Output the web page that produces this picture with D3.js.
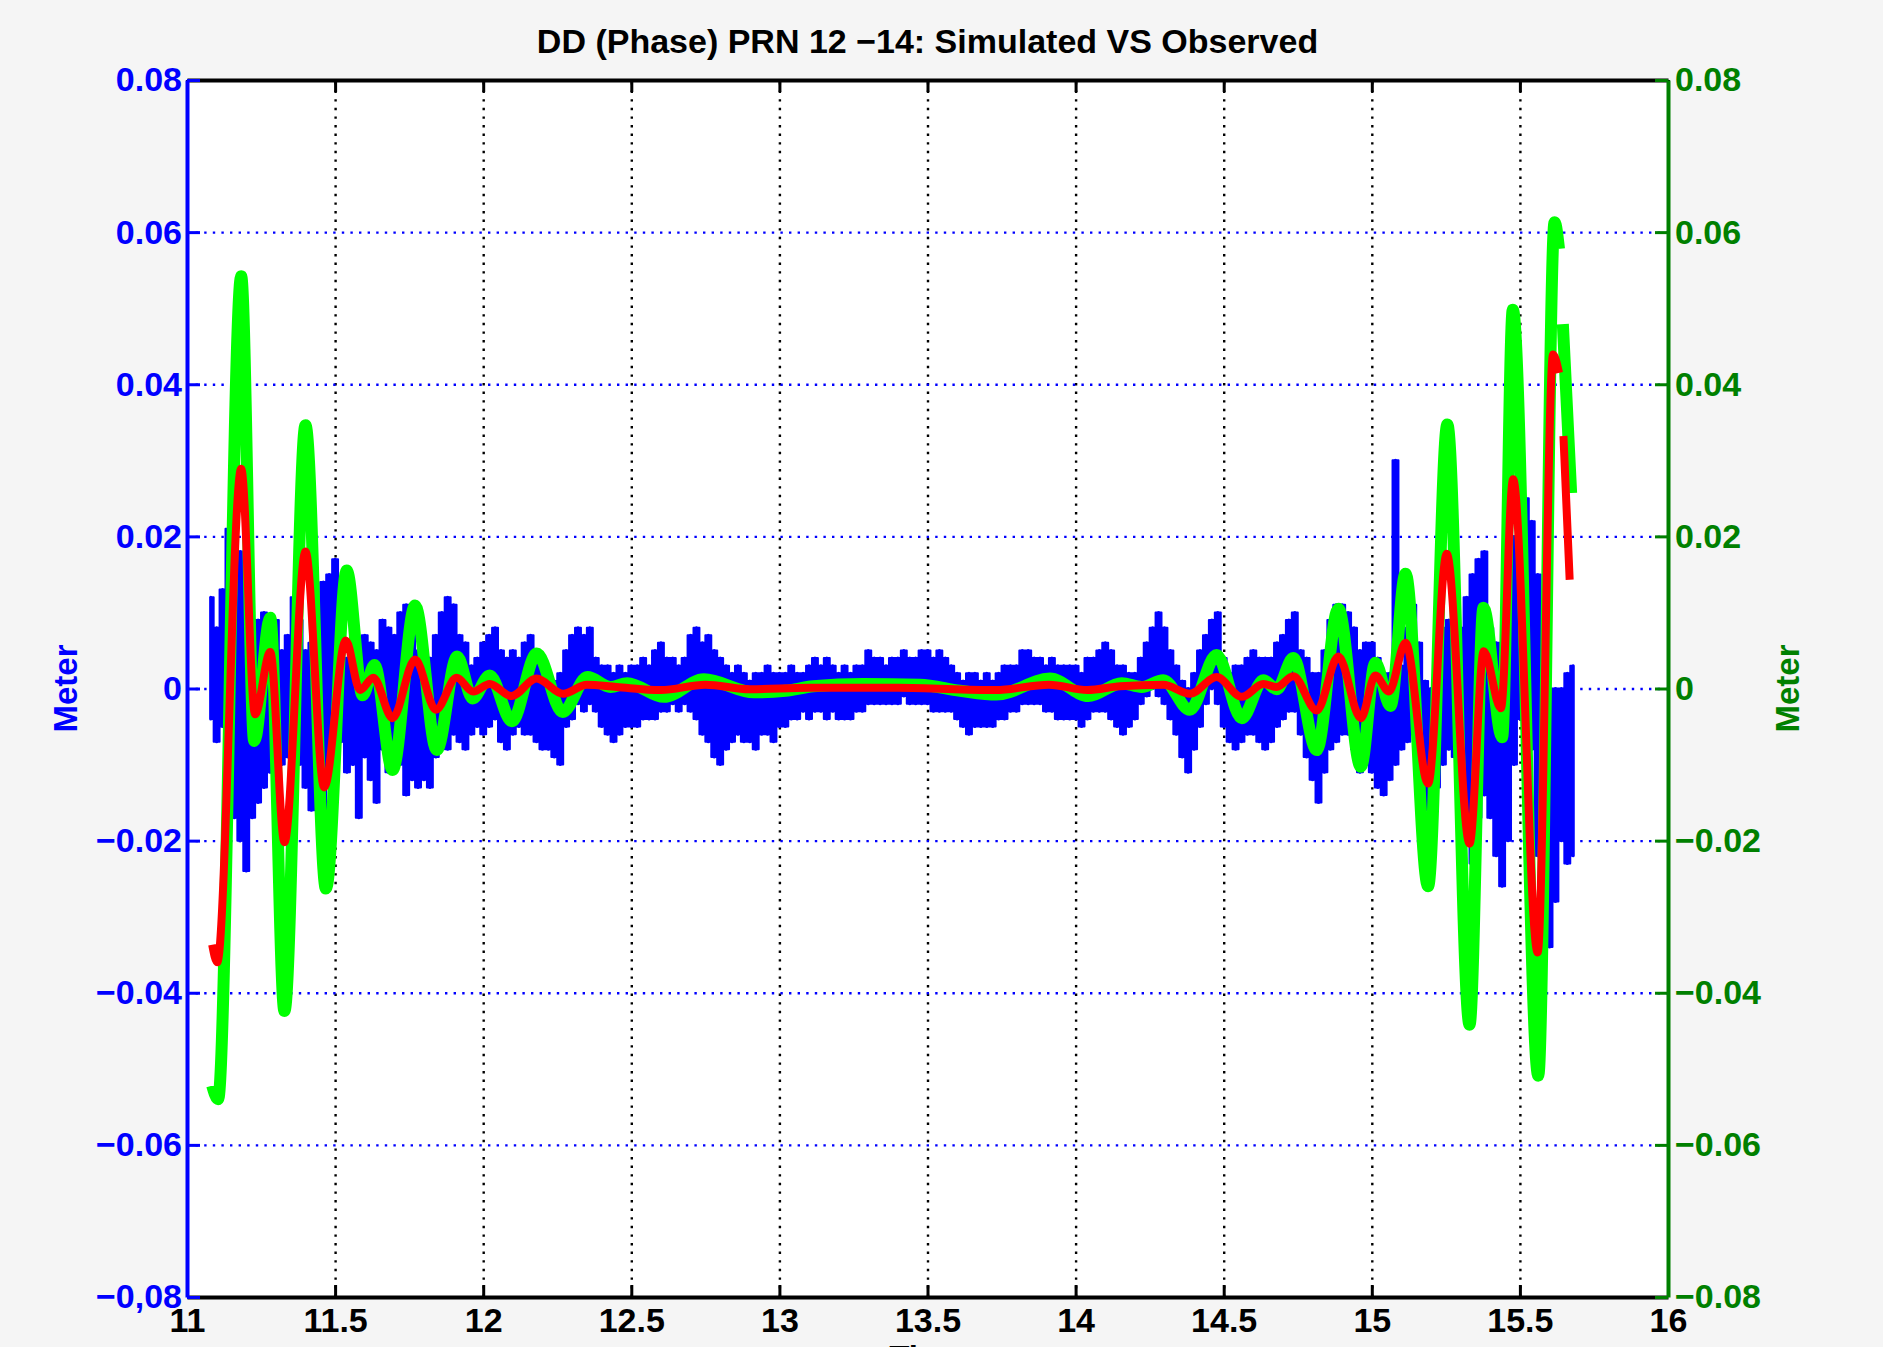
<!DOCTYPE html>
<html><head><meta charset="utf-8">
<script src="https://cdn.jsdelivr.net/npm/d3@7"></script>
<style>
html,body{margin:0;padding:0;background:#f5f5f5;overflow:hidden}
text{font-family:"Liberation Sans",Arial,Helvetica,sans-serif;font-weight:bold}
</style>
</head><body>
<svg id="chart" width="1883" height="1347"></svg>
<script>
// ---------- DATA ----------
const titleText = "DD (Phase) PRN 12 \u221214: Simulated VS Observed";
const xLabelText = "Time";
const yLabelText = "Meter";

const xTicks = [11, 11.5, 12, 12.5, 13, 13.5, 14, 14.5, 15, 15.5, 16];
const xTickLabels = ["11", "11.5", "12", "12.5", "13", "13.5", "14", "14.5", "15", "15.5", "16"];
const yTicks = [-0.08, -0.06, -0.04, -0.02, 0, 0.02, 0.04, 0.06, 0.08];
const leftTickLabels = ["\u22120,08", "\u22120.06", "\u22120.04", "\u22120.02", "0", "0.02", "0.04", "0.06", "0.08"];
const rightTickLabels = ["\u22120.08", "\u22120.06", "\u22120.04", "\u22120.02", "0", "0.02", "0.04", "0.06", "0.08"];

// Observed DD (blue): envelope per 0.02 h sample, in millimetres, starting at 11.08 h
const obsStart = 11.08, obsStep = 0.02;
const obsHighMM = [
  12, 8, 13, 21, 26, 18, 8, 6, 9, 10,      // 11.08 - 11.26
  8, 9, 5, 7, 12, 9, 5, 6, 8, 14,          // 11.28 - 11.46
  15, 17, 14, 4, 3, 6, 7, 6, 5, 9,         // 11.48 - 11.66
  8, 7, 10, 11, 8, 5, 6, 4, 7, 10,         // 11.68 - 11.86
  12, 11, 7, 6, 3, 4, 6, 7, 8, 5,          // 11.88 - 12.06
  4, 5, 4, 6, 7, 4, 3, 1, 1, 2,            // 12.08 - 12.26
  5, 7, 8, 7, 8, 4, 3, 3, 2, 3,            // 12.28 - 12.46
  2, 3, 3, 4, 3, 5, 6, 4, 4, 3,            // 12.48 - 12.66
  4, 7, 8, 6, 7, 5, 4, 3, 2, 3,            // 12.68 - 12.86
  2, 1, 2, 2, 3, 2, 2, 2, 3, 2,            // 12.88 - 13.06
  2, 3, 4, 3, 4, 3, 2, 3, 2, 3,            // 13.08 - 13.26
  3, 5, 4, 4, 3, 4, 4, 5, 4, 4,            // 13.28 - 13.46
  5, 5, 4, 5, 4, 3, 2, 1, 2, 2,            // 13.48 - 13.66
  1, 2, 1, 2, 3, 3, 3, 5, 5, 4,            // 13.68 - 13.86
  4, 3, 4, 3, 3, 3, 3, 2, 4, 4,            // 13.88 - 14.06
  5, 6, 5, 3, 3, 2, 2, 4, 6, 8,            // 14.08 - 14.26
  10, 8, 5, 3, 1, 0, 2, 5, 7, 9,           // 14.28 - 14.46
  10, 4, 2, 3, 3, 4, 5, 4, 4, 4,           // 14.48 - 14.66
  6, 7, 9, 10, 5, 4, 2, 2, 5, 9,           // 14.68 - 14.86
  11, 11, 10, 8, 5, 6, 6, 4, 2, 2,         // 14.88 - 15.06
  30, 3, 8, 11, 6, 1, 0, 6, 8, 9,          // 15.08 - 15.26
  7, 8, 12, 15, 17, 18, 8, 6, 4, 10,       // 15.28 - 15.46
  20, 26, 25, 22, 15, 8, 0, 0, 0, 2,       // 15.48 - 15.66
  3                                        // 15.68
];
const obsLowMM = [
  -4, -7, -5, -6, -17, -20, -24, -17, -15, -13,
  -11, -14, -10, -9, -12, -10, -13, -16, -13, -16,
  -12, -8, -7, -11, -10, -17, -9, -12, -15, -8,
  -11, -9, -10, -14, -12, -13, -12, -13, -9, -7,
  -8, -6, -7, -8, -6, -5, -6, -5, -4, -7,
  -8, -6, -5, -6, -6, -7, -8, -8, -9, -10,
  -5, -4, -2, -3, -2, -3, -5, -6, -7, -6,
  -5, -5, -5, -4, -4, -4, -3, -3, -2, -3,
  -2, -3, -4, -6, -7, -9, -10, -8, -7, -6,
  -7, -7, -8, -6, -6, -7, -5, -5, -4, -4,
  -3, -4, -3, -3, -4, -3, -4, -4, -4, -3,
  -3, -2, -2, -2, -2, -2, -2, -1, -2, -2,
  -2, -2, -3, -3, -3, -3, -4, -5, -6, -5,
  -5, -5, -5, -4, -4, -3, -3, -2, -2, -2,
  -2, -3, -3, -4, -4, -4, -4, -5, -4, -3,
  -3, -3, -4, -5, -6, -5, -4, -2, -1, 0,
  -1, -2, -4, -6, -9, -11, -8, -5, -2, 0,
  -2, -5, -7, -8, -7, -6, -6, -7, -8, -7,
  -5, -4, -3, -3, -6, -9, -12, -15, -11, -8,
  -7, -6, -6, -8, -11, -10, -11, -13, -14, -12,
  -10, -8, -7, -6, -10, -16, -18, -13, -10, -8,
  -9, -13, -18, -23, -17, -14, -17, -22, -26, -20,
  -10, -4, -2, -8, -22, -29, -34, -28, -20, -23,
  -22
];

// Simulated (green, right axis): turning points in hours / metres; null = gap
const greenT = [11.085, 11.105, 11.183, 11.227, 11.281, 11.329, 11.400, 11.469, 11.539, 11.593,
  11.633, 11.694, 11.770, 11.843, 11.912, 11.964, 12.022, 12.097, 12.181, 12.268,
  12.352, 12.430, 12.486, 12.610, 12.745, 12.914, 13.020, 13.114, 13.283, 13.474,
  13.610, 13.733, 13.913, 14.043, 14.156, 14.223, 14.296, 14.386, 14.476, 14.561,
  14.634, 14.679, 14.735, 14.814, 14.887, 14.963, 15.012, 15.063, 15.114, 15.190,
  15.255, 15.330, 15.377, 15.440, 15.476, 15.562, 15.617, 15.632, null, 15.645, 15.673];
const greenV = [-0.0522, -0.0540, 0.0542, -0.0069, 0.0093, -0.0424, 0.0346, -0.0263, 0.0155, -0.0009,
  0.0031, -0.0107, 0.0109, -0.0081, 0.0042, -0.0013, 0.0017, -0.0043, 0.0046, -0.0031,
  0.0015, 0.0002, 0.0007, -0.0011, 0.0012, -0.0005, -0.0003, 0.0003, 0.0006, 0.0005,
  -0.0003, -0.0008, 0.0013, -0.0010, 0.0007, 0.0002, 0.0011, -0.0028, 0.0044, -0.0039,
  0.0011, -0.0001, 0.0040, -0.0081, 0.0105, -0.0103, 0.0034, -0.0023, 0.0151, -0.0260,
  0.0347, -0.0442, 0.0106, -0.0064, 0.0498, -0.0509, 0.0613, 0.0578, null, 0.0479, 0.0257];

// Simulated (red)
const redT = [11.085, 11.102, 11.183, 11.230, 11.281, 11.329, 11.400, 11.463, 11.536, 11.584,
  11.629, 11.694, 11.770, 11.840, 11.910, 11.966, 12.022, 12.095, 12.180, 12.270,
  12.350, 12.450, 12.600, 12.750, 12.900, 13.100, 13.400, 13.730, 13.910, 14.040,
  14.150, 14.296, 14.386, 14.476, 14.561, 14.634, 14.679, 14.735, 14.814, 14.887,
  14.963, 15.012, 15.058, 15.114, 15.190, 15.253, 15.330, 15.378, 15.436, 15.477,
  15.560, 15.612, 15.632, null, 15.647, 15.668];
const redV = [-0.0337, -0.0360, 0.0289, -0.0034, 0.0048, -0.0202, 0.0180, -0.0130, 0.0063, -0.0002,
  0.0014, -0.0039, 0.0038, -0.0028, 0.0014, -0.0004, 0.0006, -0.0010, 0.0013, -0.0007,
  0.0005, 0.0002, -0.0002, 0.0005, -0.0001, 0.0001, 0.0001, -0.0002, 0.0005, -0.0002,
  0.0003, 0.0005, -0.0007, 0.0015, -0.0011, 0.0006, 0.0002, 0.0016, -0.0029, 0.0042,
  -0.0039, 0.0017, -0.0004, 0.0060, -0.0125, 0.0177, -0.0204, 0.0049, -0.0026, 0.0275,
  -0.0347, 0.0439, 0.0415, null, 0.0332, 0.0143];

// ---------- LAYOUT ----------
const L = 187, R = 1668, T = 80, B = 1297;
const BLUE = "#0000ff", GREEN = "#00ff00", RED = "#ff0000", DKGREEN = "#008000";
const FONT = '"Liberation Sans",Arial,sans-serif';

const svg = d3.select("#chart");
svg.append("rect").attr("width", 1883).attr("height", 1347).attr("fill", "#f5f5f5");

const x = d3.scaleLinear().domain([11, 16]).range([L, R]);
const yL = d3.scaleLinear().domain([-0.08, 0.08]).range([B, T]);
const yR = d3.scaleLinear().domain([-0.08, 0.08]).range([B, T]);

svg.append("rect").attr("x", L).attr("y", T).attr("width", R - L).attr("height", B - T).attr("fill", "#fff");

svg.append("defs").append("clipPath").attr("id", "clip")
  .append("rect").attr("x", L).attr("y", T).attr("width", R - L).attr("height", B - T);

// grid
const gridV = svg.append("g").attr("transform", `translate(0,${B})`)
  .call(d3.axisBottom(x).tickValues(xTicks.slice(1, -1)).tickSize(-(B - T)).tickFormat(""));
gridV.select(".domain").remove();
gridV.selectAll("line").attr("stroke", "#000").attr("stroke-width", 2.4)
  .attr("stroke-dasharray", "2.4,6.2");

const gridH = svg.append("g").attr("transform", `translate(${L},0)`)
  .call(d3.axisLeft(yL).tickValues(yTicks.slice(1, -1)).tickSize(-(R - L)).tickFormat(""));
gridH.select(".domain").remove();
gridH.selectAll("line").attr("stroke", BLUE).attr("stroke-width", 2.4)
  .attr("stroke-dasharray", "2.4,6.2");

// data layer
const plot = svg.append("g").attr("clip-path", "url(#clip)");

const obs = obsHighMM.map((h, i) => ({ t: obsStart + i * obsStep, hi: h / 1000, lo: obsLowMM[i] / 1000 }));
const area = d3.area().x(d => x(d.t)).y0(d => yL(d.lo)).y1(d => yL(d.hi)).curve(d3.curveStep);
plot.append("path").datum(obs).attr("d", area).attr("fill", BLUE)
  .attr("stroke", BLUE).attr("stroke-width", 2).attr("stroke-linejoin", "round");
plot.append("g").selectAll("line").data(obs).join("line")
  .attr("x1", d => x(d.t)).attr("x2", d => x(d.t))
  .attr("y1", d => yL(d.lo)).attr("y2", d => yL(d.hi))
  .attr("stroke", BLUE).attr("stroke-width", 3).attr("stroke-linecap", "round");

function series(ts, vs) { return ts.map((t, i) => ({ t, v: vs[i] })); }
const simLine = scale => d3.line().defined(d => d.t !== null && d.v !== null)
  .x(d => x(d.t)).y(d => scale(d.v)).curve(d3.curveMonotoneX);

plot.append("path").datum(series(greenT, greenV)).attr("d", simLine(yR))
  .attr("fill", "none").attr("stroke", GREEN).attr("stroke-width", 12)
  .attr("stroke-linejoin", "round").attr("stroke-linecap", "butt");
plot.append("path").datum(series(redT, redV)).attr("d", simLine(yL))
  .attr("fill", "none").attr("stroke", RED).attr("stroke-width", 8)
  .attr("stroke-linejoin", "round").attr("stroke-linecap", "butt");

// axes
function styleAxis(g, color, fontSize) {
  g.select(".domain").attr("stroke", color).attr("stroke-width", 4);
  g.selectAll(".tick line").attr("stroke", color).attr("stroke-width", 3);
  g.selectAll(".tick text").attr("fill", color).style("font-size", fontSize + "px")
    .style("font-family", FONT).style("font-weight", "bold");
}
const fs = 34;
const axB = svg.append("g").attr("transform", `translate(0,${B})`)
  .call(d3.axisBottom(x).tickValues(xTicks).tickSize(-12).tickSizeOuter(0).tickPadding(11)
    .tickFormat((d, i) => xTickLabels[i]));
styleAxis(axB, "#000", fs);
const axT = svg.append("g").attr("transform", `translate(0,${T})`)
  .call(d3.axisTop(x).tickValues(xTicks).tickSize(-12).tickSizeOuter(0).tickFormat(""));
styleAxis(axT, "#000", fs);
const axL = svg.append("g").attr("transform", `translate(${L},0)`)
  .call(d3.axisLeft(yL).tickValues(yTicks).tickSize(-13).tickSizeOuter(0).tickPadding(5)
    .tickFormat((d, i) => leftTickLabels[i]));
styleAxis(axL, BLUE, fs);
const axR = svg.append("g").attr("transform", `translate(${R},0)`)
  .call(d3.axisRight(yR).tickValues(yTicks).tickSize(-13).tickSizeOuter(0).tickPadding(7)
    .tickFormat((d, i) => rightTickLabels[i]));
styleAxis(axR, DKGREEN, fs);

// titles
svg.append("text").attr("x", (L + R) / 2).attr("y", 53).attr("text-anchor", "middle")
  .style("font-size", "34px").attr("fill", "#000").text(titleText);
svg.append("text").attr("transform", `translate(77,${yL(0)}) rotate(-90)`).attr("text-anchor", "middle")
  .style("font-size", "33px").attr("fill", BLUE).text(yLabelText);
svg.append("text").attr("transform", `translate(1799,${yR(0)}) rotate(-90)`).attr("text-anchor", "middle")
  .style("font-size", "33px").attr("fill", DKGREEN).text(yLabelText);
svg.append("text").attr("x", (L + R) / 2).attr("y", 1369).attr("text-anchor", "middle")
  .style("font-size", "33px").attr("fill", "#000").text(xLabelText);
</script>
</body></html>
